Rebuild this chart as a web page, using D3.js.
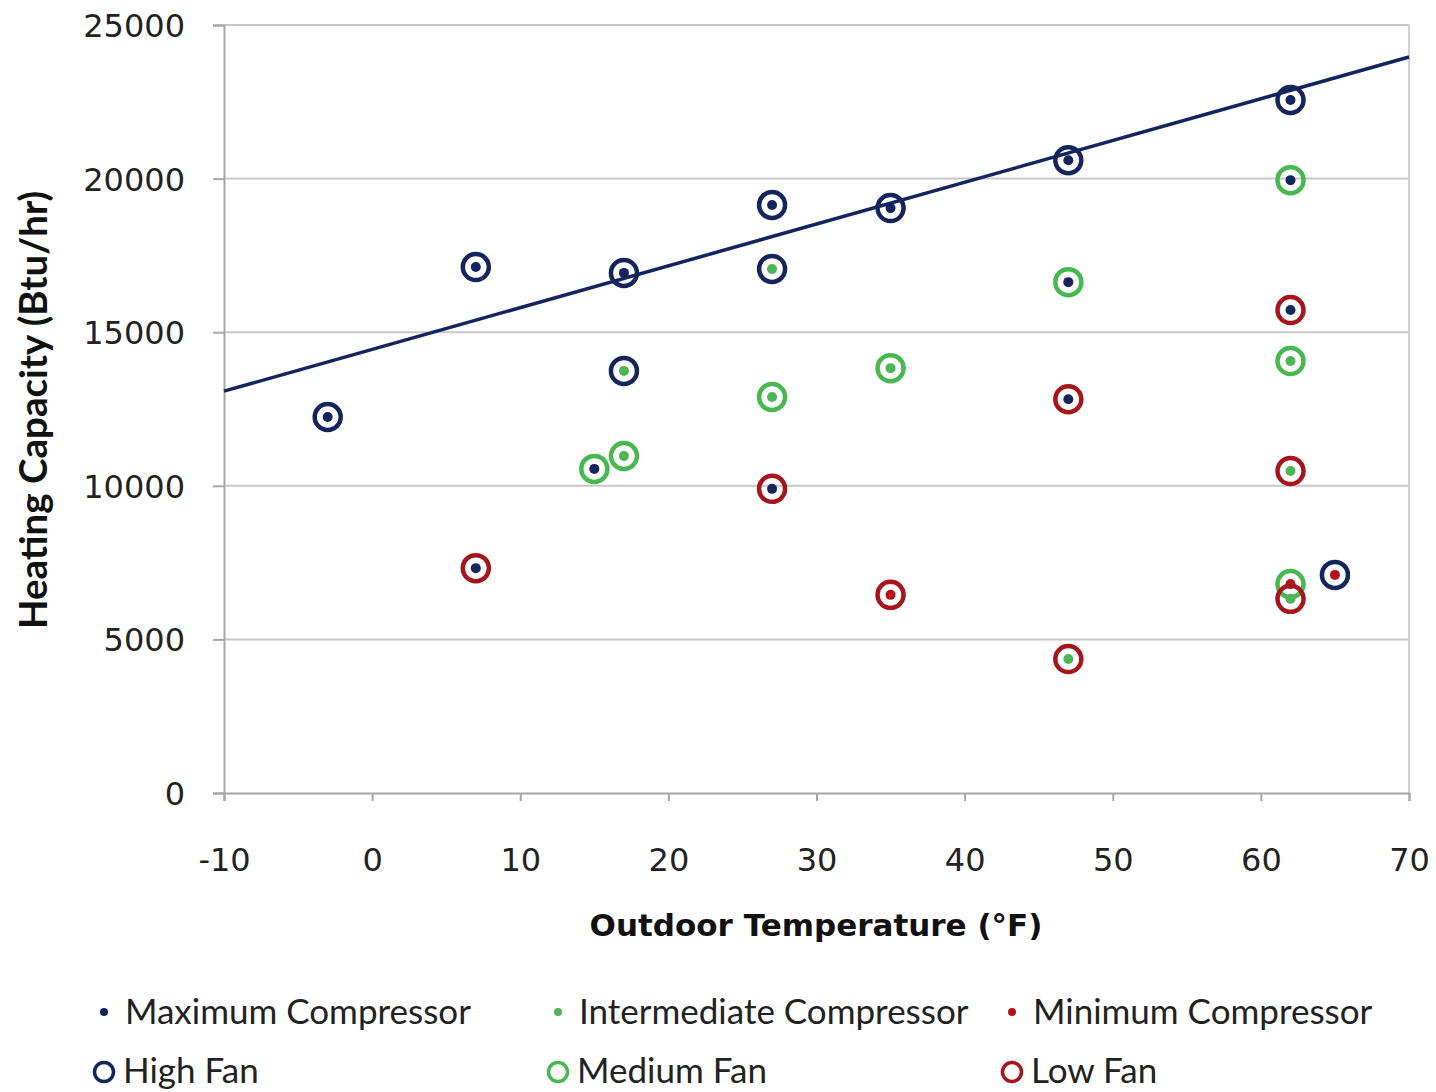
<!DOCTYPE html>
<html><head><meta charset="utf-8">
<script src="https://cdn.jsdelivr.net/npm/d3@7"></script>
<style>body{margin:0;background:#fff}</style>
</head><body>
<svg id="c" width="1436" height="1092"></svg>
<script>
// Data: outdoor temperature (°F), heating capacity (Btu/hr), compressor stage, fan speed
const temps      = [-3, 7, 7, 15, 17, 17, 17, 27, 27, 27, 27, 35, 35, 35, 47, 47, 47, 47, 62, 62, 62, 62, 62, 62, 62, 65];
const capacities = [12240, 17120, 7320, 10550, 16930, 13740, 10970, 19140, 17060, 12890, 9900, 19040, 13830, 6450, 20600, 16630, 12820, 4360, 22560, 19950, 15720, 14060, 10480, 6800, 6320, 7100];
const compressor = ["Max","Max","Max","Max","Max","Int","Int","Max","Int","Int","Max","Max","Int","Min","Max","Max","Max","Int","Max","Max","Max","Int","Int","Min","Int","Min"];
const fan        = ["High","High","Low","Medium","High","High","Medium","High","High","Medium","Low","High","Medium","Low","High","Medium","Low","Low","High","Medium","Low","Medium","Low","Medium","Low","High"];
const trendX = [-10, 70];
const trendY = [13080, 23960];
const xTicks = [-10, 0, 10, 20, 30, 40, 50, 60, 70];
const yTicks = [0, 5000, 10000, 15000, 20000, 25000];
const compLabels = ["Maximum Compressor", "Intermediate Compressor", "Minimum Compressor"];
const fanLabels  = ["High Fan", "Medium Fan", "Low Fan"];
const compKeys = ["Max", "Int", "Min"];
const fanKeys  = ["High", "Medium", "Low"];

const dotColor  = {Max: "#14245c", Int: "#4cb556", Min: "#b5121b"};
const ringColor = {High: "#14245c", Medium: "#46b84f", Low: "#a8141c"};

const svg = d3.select("#c");
const x = d3.scaleLinear().domain([-10, 70]).range([224, 1409]);
const y = d3.scaleLinear().domain([0, 25000]).range([793, 25]);

// gridlines
svg.append("g").selectAll("line").data(yTicks.filter(d => d > 0)).join("line")
  .attr("x1", x(-10)).attr("x2", x(70))
  .attr("y1", d => y(d)).attr("y2", d => y(d))
  .attr("stroke", "#c8c8c8").attr("stroke-width", 2);
// right border
svg.append("line").attr("x1", x(70)).attr("x2", x(70)).attr("y1", y(25000)).attr("y2", y(0))
  .attr("stroke", "#d0d0d0").attr("stroke-width", 2);

// axes
const yAxis = d3.axisLeft(y).tickValues(yTicks).tickSize(11).tickPadding(28).tickFormat(d => String(d));
const gy = svg.append("g").attr("transform", `translate(${x(-10)},0)`).call(yAxis);
const xAxis = d3.axisBottom(x).tickValues(xTicks).tickSize(8).tickPadding(70).tickFormat(d => String(d));
const gx = svg.append("g").attr("transform", `translate(0,${y(0)})`).call(xAxis);
[gx, gy].forEach(g => {
  g.select(".domain").attr("stroke", "#a6a6a6").attr("stroke-width", 2);
  g.selectAll(".tick line").attr("stroke", "#a6a6a6").attr("stroke-width", 2);
  g.selectAll("text").attr("font-family", "DejaVu Sans").attr("font-size", 32).attr("fill", "#222");
});
gy.selectAll("text").attr("dy", "0.36em");
gx.selectAll("text").attr("dy", "0em");

// trend line
svg.append("line")
  .attr("x1", x(trendX[0])).attr("y1", y(trendY[0]))
  .attr("x2", x(trendX[1])).attr("y2", y(trendY[1]))
  .attr("stroke", "#14245c").attr("stroke-width", 3.5);

// points
const pts = temps.map((t, i) => ({t, c: capacities[i], comp: compressor[i], fan: fan[i]}));
const pg = svg.append("g");
pts.forEach(p => {
  pg.append("circle").attr("cx", x(p.t)).attr("cy", y(p.c)).attr("r", 13)
    .attr("fill", "none").attr("stroke", ringColor[p.fan]).attr("stroke-width", 4.5);
  pg.append("circle").attr("cx", x(p.t)).attr("cy", y(p.c)).attr("r", 5)
    .attr("fill", dotColor[p.comp]);
});

// axis titles
svg.append("text").attr("x", 816).attr("y", 936).attr("text-anchor", "middle")
  .attr("font-family", "DejaVu Sans").attr("font-weight", "bold").attr("font-size", 31).attr("fill", "#111")
  .text("Outdoor Temperature (°F)");
svg.append("text").attr("transform", "translate(47,410) rotate(-90)").attr("text-anchor", "middle")
  .attr("font-family", "Lato").attr("font-weight", "bold").attr("font-size", 38.5).attr("fill", "#111")
  .text("Heating Capacity (Btu/hr)");

// legend
const legX = [104, 558, 1012];
const lg = svg.append("g").attr("font-family", "Lato").attr("font-size", 35).attr("fill", "#222");
compKeys.forEach((k, i) => {
  lg.append("circle").attr("cx", legX[i]).attr("cy", 1012).attr("r", 4).attr("fill", dotColor[k]);
  lg.append("text").attr("x", legX[i] + 21).attr("y", 1024).text(compLabels[i]);
});
fanKeys.forEach((k, i) => {
  lg.append("circle").attr("cx", legX[i]).attr("cy", 1072).attr("r", 9.5)
    .attr("fill", "none").attr("stroke", ringColor[k]).attr("stroke-width", 3.5);
  lg.append("text").attr("x", legX[i] + 19).attr("y", 1083).text(fanLabels[i]);
});
</script>
</body></html>
